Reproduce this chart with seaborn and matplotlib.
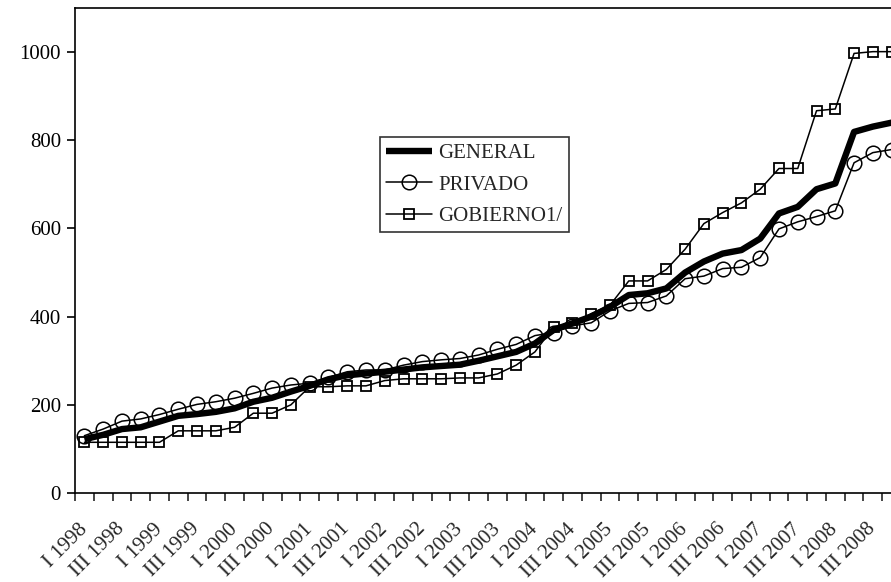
import numpy as np
import pandas as pd
import matplotlib
matplotlib.use("Agg")
import matplotlib.pyplot as plt
import seaborn as sns

years = list(range(1998, 2009))
quarters = ["I", "II", "III", "IV"]
periods = [f"{q} {y}" for y in years for q in quarters]

general = [122, 132, 145, 149, 162, 175, 179, 184, 192, 207, 216, 230,
           243, 258, 267, 271, 275, 280, 285, 288, 291, 300, 310, 320,
           339, 370, 385, 400, 422, 449, 453, 464, 500, 525, 543, 551,
           577, 634, 649, 689, 702, 819, 831, 840]
privado = [130, 145, 163, 168, 178, 190, 201, 207, 215, 226, 238, 245,
           249, 262, 275, 279, 279, 290, 298, 302, 305, 313, 326, 337,
           357, 364, 379, 386, 413, 430, 432, 447, 486, 492, 509, 512,
           534, 599, 615, 627, 640, 749, 772, 779]
gobierno = [115, 115, 115, 115, 115, 141, 141, 141, 149, 181, 181, 200,
            241, 241, 243, 243, 255, 259, 259, 259, 261, 261, 270, 290,
            320, 377, 386, 407, 426, 481, 481, 507, 553, 611, 636, 658,
            689, 736, 736, 867, 871, 997, 1001, 1001]
y_ticks = [0, 200, 400, 600, 800, 1000]

sns.set_style("ticks")
plt.rcParams["font.family"] = ["Liberation Serif", "DejaVu Serif"]

df = pd.DataFrame({"idx": np.arange(len(periods)), "periodo": periods,
                   "GENERAL": general, "PRIVADO": privado, "GOBIERNO1/": gobierno})

W, H = 891, 582
fig = plt.figure(figsize=(W / 100, H / 100), dpi=100)
left, right, top, bottom = 75, 901, 8, 493
ax = fig.add_axes([left / W, (H - bottom) / H, (right - left) / W, (bottom - top) / H])

sns.lineplot(data=df, x="idx", y="GENERAL", ax=ax, color="black", linewidth=4.6,
             label="GENERAL", solid_joinstyle="round", solid_capstyle="butt")
sns.lineplot(data=df, x="idx", y="PRIVADO", ax=ax, color="black", linewidth=1.1,
             marker="o", markersize=10.5, markerfacecolor="none",
             markeredgecolor="black", markeredgewidth=1.1, label="PRIVADO")
sns.lineplot(data=df, x="idx", y="GOBIERNO1/", ax=ax, color="black", linewidth=1.1,
             marker="s", markersize=7.5, markerfacecolor="none",
             markeredgecolor="black", markeredgewidth=1.3, label="GOBIERNO1/")

n = len(periods)
ax.set_xlim(-0.5, n - 0.5)
ax.set_ylim(0, 1100)
ax.set_yticks(y_ticks)
ax.set_yticklabels([str(v) for v in y_ticks], fontsize=15)
ax.tick_params(axis="y", direction="out", length=6, width=1.2, colors="black", pad=4)

ax.set_xticks(np.arange(-0.5, n, 1.0))
ax.set_xticklabels([])
ax.tick_params(axis="x", which="major", direction="out", length=6, width=1.2)
ax.set_xticks(np.arange(0, n, 2), minor=True)
ax.set_xticklabels([periods[i] for i in range(0, n, 2)], minor=True, fontsize=15,
                   rotation=45, ha="right", va="center", rotation_mode="anchor")
ax.tick_params(axis="x", which="minor", length=0, pad=24)

ax.set_xlabel("")
ax.set_ylabel("")
for s in ax.spines.values():
    s.set_color("black")
    s.set_linewidth(1.2)

leg = ax.legend(loc="upper left", bbox_to_anchor=((380 - left) / (right - left), (bottom - 137) / (bottom - top)),
                borderaxespad=0, fancybox=False, frameon=True, fontsize=15,
                handlelength=2.2, handletextpad=0.3, labelspacing=0.58, borderpad=0.3)
leg.get_frame().set_edgecolor("black")
leg.get_frame().set_linewidth(1.2)

fig.savefig("out.png", dpi=100)
